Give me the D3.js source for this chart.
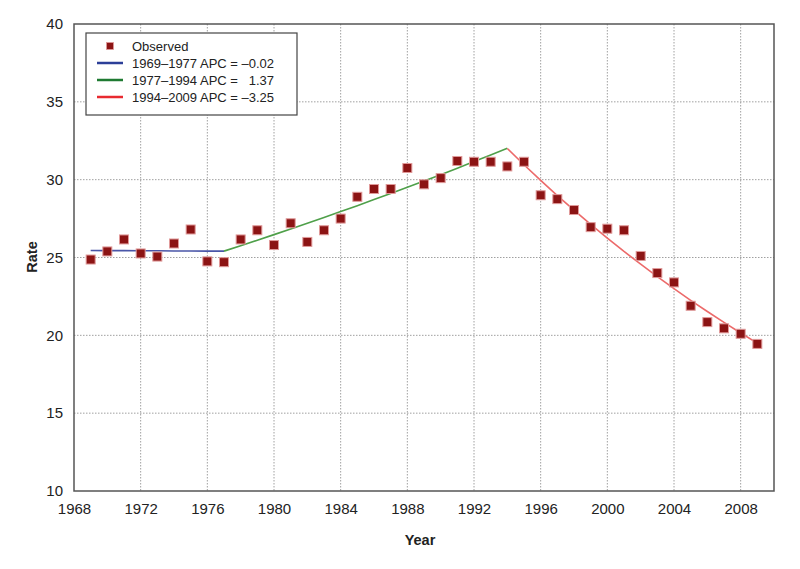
<!DOCTYPE html>
<html><head><meta charset="utf-8">
<script src="https://cdn.jsdelivr.net/npm/d3@7"></script>
<style>
body{margin:0;background:#fff;}
text{font-family:"Liberation Sans","Helvetica",Arial,sans-serif;}
</style></head>
<body><svg id="c" width="800" height="569"></svg>
<script>
const years = [1969,1970,1971,1972,1973,1974,1975,1976,1977,1978,1979,1980,1981,1982,1983,1984,1985,1986,1987,1988,1989,1990,1991,1992,1993,1994,1995,1996,1997,1998,1999,2000,2001,2002,2003,2004,2005,2006,2007,2008,2009];
const observed = [24.87,25.39,26.16,25.26,25.06,25.9,26.8,24.75,24.7,26.16,26.75,25.8,27.2,26.0,26.75,27.5,28.9,29.4,29.4,30.75,29.7,30.1,31.2,31.15,31.15,30.85,31.15,29.0,28.75,28.05,26.95,26.85,26.75,25.1,24.0,23.4,21.9,20.85,20.45,20.1,19.45];

const seg1Years = [1969,1970,1971,1972,1973,1974,1975,1976,1977];
const seg1Fit = [25.45,25.44,25.44,25.43,25.43,25.42,25.42,25.41,25.41];
const seg2Years = [1977,1978,1979,1980,1981,1982,1983,1984,1985,1986,1987,1988,1989,1990,1991,1992,1993,1994];
const seg2Fit = [25.41,25.76,26.11,26.47,26.83,27.20,27.57,27.95,28.33,28.72,29.11,29.51,29.91,30.32,30.74,31.16,31.59,32.02];
const seg3Years = [1994,1995,1996,1997,1998,1999,2000,2001,2002,2003,2004,2005,2006,2007,2008,2009];
const seg3Fit = [32.00,30.96,29.95,28.98,28.04,27.13,26.25,25.39,24.57,23.77,23.00,22.25,21.53,20.83,20.15,19.50];

const legendLabels = ["Observed","1969\u20131977 APC = \u20130.02","1977\u20131994 APC =   1.37","1994\u20132009 APC = \u20133.25"];
const xTicks = [1968,1972,1976,1980,1984,1988,1992,1996,2000,2004,2008];
const yTicks = [10,15,20,25,30,35,40];

const svg = d3.select("#c");
const L=74, R=774, T=24, B=491;
const x = d3.scaleLinear().domain([1968,2010]).range([L,R]);
const y = d3.scaleLinear().domain([10,40]).range([B,T]);

// gridlines
svg.append("g").selectAll("line").data(xTicks.slice(1)).join("line")
  .attr("x1",d=>x(d)).attr("x2",d=>x(d)).attr("y1",T).attr("y2",B)
  .attr("stroke","#a0a0a0").attr("stroke-width",1).attr("stroke-dasharray","1.5,1.5");
svg.append("g").selectAll("line").data(yTicks.slice(1,-1)).join("line")
  .attr("x1",L).attr("x2",R).attr("y1",d=>y(d)).attr("y2",d=>y(d))
  .attr("stroke","#a0a0a0").attr("stroke-width",1).attr("stroke-dasharray","1.5,1.5");

// axes (labels only)
const xa = svg.append("g").attr("transform",`translate(0,${B})`)
  .call(d3.axisBottom(x).tickValues(xTicks).tickFormat(d3.format("d")).tickSize(0).tickPadding(12));
xa.select(".domain").remove();
xa.selectAll("text").attr("fill","#222").style("font-size","15px");
const ya = svg.append("g").attr("transform",`translate(${L},0)`)
  .call(d3.axisLeft(y).tickValues(yTicks).tickSize(0).tickPadding(11));
ya.select(".domain").remove();
ya.selectAll("text").attr("fill","#222").style("font-size","15px");

// frame
svg.append("rect").attr("x",L).attr("y",T).attr("width",R-L).attr("height",B-T)
  .attr("fill","none").attr("stroke","#555").attr("stroke-width",1.5);

// segment lines
const line = d3.line().x(d=>x(d[0])).y(d=>y(d[1]));
const segs = [
  {yrs:seg1Years, v:seg1Fit, c:"#4a56a8"},
  {yrs:seg2Years, v:seg2Fit, c:"#4fa04a"},
  {yrs:seg3Years, v:seg3Fit, c:"#ec6a6a"}
];
segs.forEach(s=>{
  svg.append("path").datum(s.yrs.map((yr,i)=>[yr,s.v[i]]))
    .attr("d",line).attr("fill","none").attr("stroke",s.c).attr("stroke-width",1.6);
});

// markers
const ms=9;
svg.append("g").selectAll("rect").data(years.map((yr,i)=>[yr,observed[i]])).join("rect")
  .attr("x",d=>x(d[0])-ms/2).attr("y",d=>y(d[1])-ms/2).attr("width",ms).attr("height",ms)
  .attr("fill","#8c1414").attr("stroke","#e09a9a").attr("stroke-width",1);

// axis titles
svg.append("text").attr("x",420).attr("y",545).attr("text-anchor","middle")
  .attr("font-weight","bold").style("font-size","14.5px").attr("fill","#222").text("Year");
svg.append("text").attr("transform","translate(37,257) rotate(-90)").attr("text-anchor","middle")
  .attr("font-weight","bold").style("font-size","14.5px").attr("fill","#222").text("Rate");

// legend
const lg = svg.append("g");
lg.append("rect").attr("x",86).attr("y",33).attr("width",211).attr("height",82)
  .attr("fill","#fff").attr("stroke","#444").attr("stroke-width",1.2);
const legColors = [null,"#2c3f98","#1f7a32","#e82a30"];
const rowY = [46,63,80,97];
legendLabels.forEach((t,i)=>{
  if(i===0){
    lg.append("rect").attr("x",110-3.5).attr("y",rowY[i]-3.5).attr("width",7).attr("height",7)
      .attr("fill","#8c1414").attr("stroke","#e09a9a").attr("stroke-width",0.8);
  } else {
    lg.append("line").attr("x1",97).attr("x2",123).attr("y1",rowY[i]).attr("y2",rowY[i])
      .attr("stroke",legColors[i]).attr("stroke-width",2.5);
  }
  lg.append("text").attr("x",132).attr("y",rowY[i]).attr("dy","0.36em")
    .style("font-size","13px").style("white-space","pre").attr("fill","#222").text(t);
});
</script></body></html>
